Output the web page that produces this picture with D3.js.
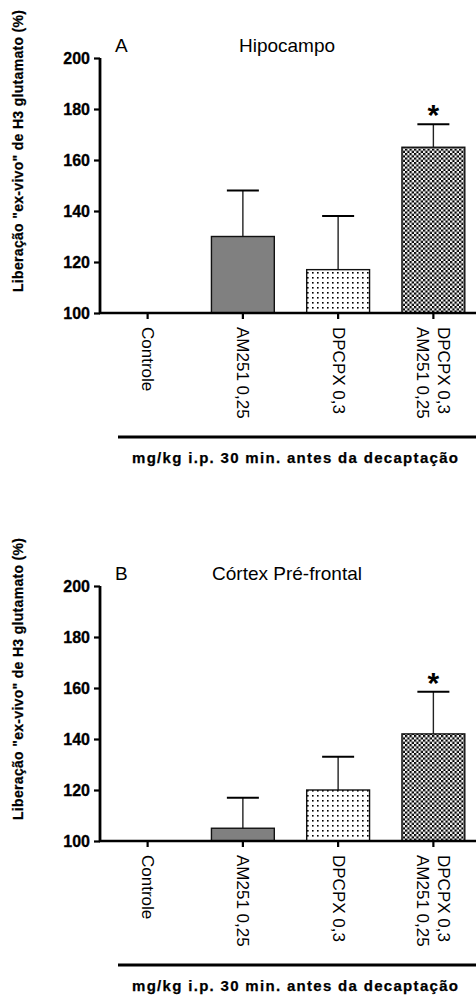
<!DOCTYPE html>
<html>
<head>
<meta charset="utf-8">
<script src="https://cdn.jsdelivr.net/npm/d3@7"></script>
<style>
  html, body { margin: 0; padding: 0; background: #fff; }
  svg { display: block; }
  svg text { font-family: "Liberation Sans", Arial, sans-serif; }
</style>
</head>
<body>
<svg id="chart" width="476" height="995"></svg>
<script>
// Groups on the x axis (multi-line labels split on "\n")
const categories = ["Controle", "AM251 0,25", "DPCPX 0,3", "DPCPX 0,3\nAM251 0,25"];
// Mean release (%) and upper error bar for each region
const hipocampoMeans = [100, 130, 117, 165];
const hipocampoErrTop = [100, 148, 138, 174];
const cortexMeans = [100, 105, 120, 142];
const cortexErrTop = [100, 117, 133, 158.5];
// Significance markers
const hipocampoSig = [false, false, false, true];
const cortexSig = [false, false, false, true];
const yTicks = [100, 120, 140, 160, 180, 200];
const fills = ["none", "#808080", "url(#dots)", "url(#checker)"];

const FONT = "'Liberation Sans', Arial, sans-serif";
const svg = d3.select("#chart");
const defs = svg.append("defs");

// dotted fill
const dots = defs.append("pattern").attr("id", "dots")
  .attr("patternUnits", "userSpaceOnUse").attr("width", 5).attr("height", 5);
dots.append("rect").attr("width", 5).attr("height", 5).attr("fill", "#fff");
dots.append("rect").attr("x", 2).attr("y", 2).attr("width", 1.6).attr("height", 1.6).attr("fill", "#000");

// fine checkerboard fill
const checker = defs.append("pattern").attr("id", "checker")
  .attr("patternUnits", "userSpaceOnUse").attr("width", 4.5).attr("height", 4.5);
checker.append("rect").attr("width", 4.5).attr("height", 4.5).attr("fill", "#fff");
checker.append("rect").attr("width", 2.25).attr("height", 2.25).attr("fill", "#000");
checker.append("rect").attr("x", 2.25).attr("y", 2.25).attr("width", 2.25).attr("height", 2.25).attr("fill", "#000");

const x = d3.scaleBand().domain(categories).range([100, 481])
  .paddingInner(0.34).paddingOuter(0.17);
const y = d3.scaleLinear().domain([100, 200]).range([313, 58]);

function drawPanel(offsetY, letter, title, means, errTop, sig) {
  const g = svg.append("g").attr("transform", `translate(0,${offsetY})`)
    .attr("font-family", FONT);
  const rows = categories.map((c, i) => ({ c, m: means[i], e: errTop[i], f: fills[i], s: sig[i] }));

  // error bars (upper only)
  const eb = g.append("g").selectAll("g").data(rows.filter(d => d.e > d.m)).join("g");
  eb.append("line")
    .attr("x1", d => x(d.c) + x.bandwidth() / 2).attr("x2", d => x(d.c) + x.bandwidth() / 2)
    .attr("y1", d => y(d.m)).attr("y2", d => y(d.e))
    .attr("stroke", "#222").attr("stroke-width", 1.4);
  eb.append("line")
    .attr("x1", d => x(d.c) + x.bandwidth() / 2 - 16).attr("x2", d => x(d.c) + x.bandwidth() / 2 + 16)
    .attr("y1", d => y(d.e)).attr("y2", d => y(d.e))
    .attr("stroke", "#000").attr("stroke-width", 2);

  // bars
  g.append("g").selectAll("rect").data(rows.filter(d => d.m > 100)).join("rect")
    .attr("x", d => x(d.c)).attr("width", x.bandwidth())
    .attr("y", d => y(d.m)).attr("height", d => y(100) - y(d.m))
    .attr("fill", d => d.f).attr("stroke", "#111").attr("stroke-width", 1.4);

  // significance asterisks
  g.append("g").selectAll("text").data(rows.filter(d => d.s)).join("text")
    .attr("x", d => x(d.c) + x.bandwidth() / 2).attr("y", d => y(d.e) + 1)
    .attr("text-anchor", "middle").attr("font-size", 30).attr("font-weight", "bold")
    .text("*");

  // y axis
  const ya = g.append("g").attr("transform", "translate(100,0)")
    .call(d3.axisLeft(y).tickValues(yTicks).tickSize(6).tickPadding(4).tickSizeOuter(0));
  ya.attr("font-family", FONT).attr("font-size", 16);
  ya.select(".domain").attr("stroke-width", 2.8).attr("d", `M0,${y(200)}V${y(100) + 1}`);
  ya.selectAll(".tick line").attr("stroke-width", 2.2);
  ya.selectAll(".tick text").attr("font-size", 16).attr("font-weight", "bold").attr("fill", "#000")
    .attr("stroke", "#000").attr("stroke-width", 0.3);

  // x axis
  const xa = g.append("g").attr("transform", `translate(0,${y(100)})`)
    .call(d3.axisBottom(x).tickSize(6).tickFormat("").tickSizeOuter(0));
  xa.select(".domain").attr("stroke-width", 2.6).attr("d", "M99,0H476");
  xa.selectAll(".tick line").attr("stroke-width", 2.2);

  // rotated category labels
  rows.forEach(d => {
    const lines = d.c.split("\n");
    const cx = x(d.c) + x.bandwidth() / 2;
    const t = g.append("text")
      .attr("transform", `translate(${cx},${y(100) + 14}) rotate(90)`)
      .attr("font-size", 17).attr("fill", "#000");
    lines.forEach((ln, k) => {
      const shift = (lines.length - 1) * 10.5 - k * 21;
      t.append("tspan").attr("x", 0).attr("y", -shift)
        .attr("dominant-baseline", "central").text(ln);
    });
  });

  // panel letter and title
  g.append("text").attr("x", 115).attr("y", 52).attr("font-size", 19).text(letter);
  g.append("text").attr("x", 287).attr("y", 52).attr("text-anchor", "middle")
    .attr("font-size", 19).text(title);

  // y axis title
  g.append("text").attr("transform", "translate(23,151) rotate(-90)")
    .attr("text-anchor", "middle").attr("font-size", 14).attr("font-weight", "bold")
    .attr("stroke", "#000").attr("stroke-width", 0.25)
    .attr("textLength", 282).attr("lengthAdjust", "spacing")
    .text('Liberação "ex-vivo" de H3 glutamato (%)');

  // grouping rule and dose caption
  g.append("line").attr("x1", 118).attr("x2", 476).attr("y1", 437).attr("y2", 437)
    .attr("stroke", "#000").attr("stroke-width", 3);
  g.append("text").attr("x", 295).attr("y", 463).attr("text-anchor", "middle")
    .attr("font-size", 15).attr("font-weight", "bold")
    .attr("stroke", "#000").attr("stroke-width", 0.25)
    .attr("textLength", 326).attr("lengthAdjust", "spacing")
    .text("mg/kg i.p. 30 min. antes da decaptação");
}

drawPanel(0, "A", "Hipocampo", hipocampoMeans, hipocampoErrTop, hipocampoSig);
drawPanel(528, "B", "Córtex Pré-frontal", cortexMeans, cortexErrTop, cortexSig);
</script>
</body>
</html>
